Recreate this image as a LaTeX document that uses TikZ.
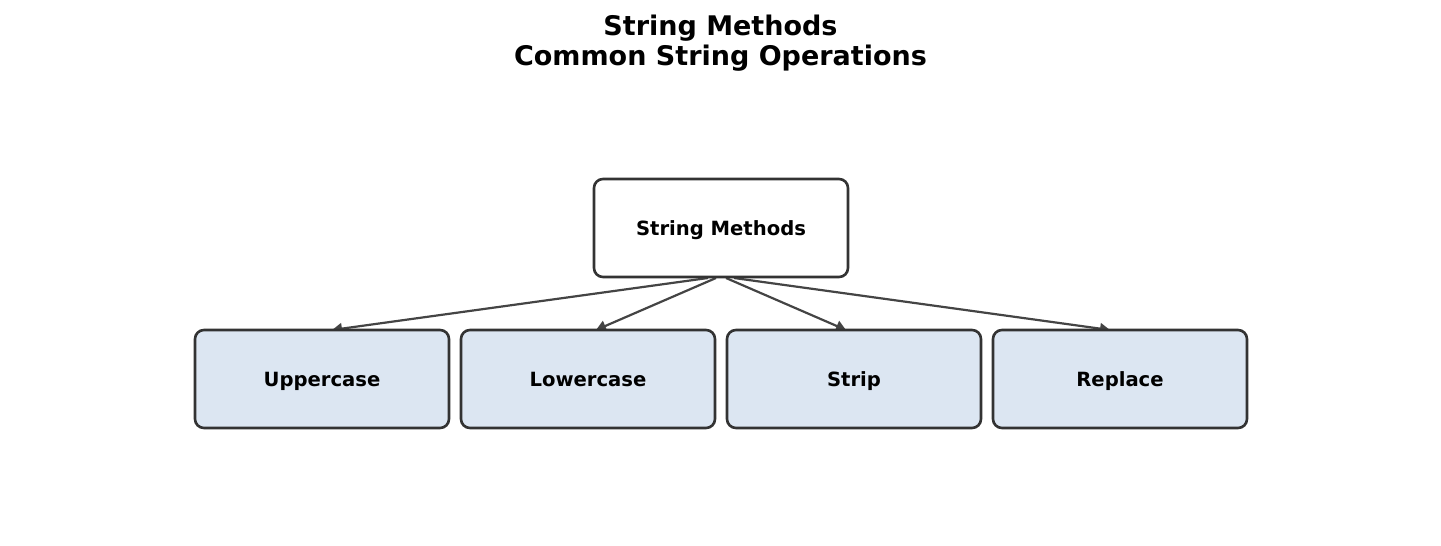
\documentclass[tikz,border=0pt]{standalone}
\usepackage{fontspec}
\setmainfont{DejaVu Sans}
\usetikzlibrary{arrows.meta}
\definecolor{edgec}{HTML}{333333}
\definecolor{arrc}{HTML}{444444}
\definecolor{leaffill}{HTML}{DCE6F2}
\tikzset{
  box/.style={draw=edgec, line width=2.6pt, rounded corners=9pt, minimum width=254pt, minimum height=98pt, inner sep=0pt, text height=16pt, text depth=2pt, font=\fontsize{19.6}{23}\selectfont\bfseries, text=black},
  leaf/.style={box, fill=leaffill},
  root/.style={box, fill=white},
  conn/.style={draw=arrc, line width=2.2pt, -{Triangle[length=10pt,width=11pt]}}
}
\begin{document}
\begin{tikzpicture}[x=1pt,y=-1pt]
\useasboundingbox (0,0) rectangle (1441,546);
\node[font=\fontsize{27}{30}\selectfont\bfseries, align=center] (title) at (720.5,43) {String Methods\\Common String Operations};
\coordinate (s1) at (708,278);
\coordinate (s2) at (716,278);
\coordinate (s3) at (726,278);
\coordinate (s4) at (734,278);
\coordinate (e1) at (332,330);
\coordinate (e2) at (596,330);
\coordinate (e3) at (846,330);
\coordinate (e4) at (1110,330);
\draw[conn] (s1) -- (e1);
\draw[conn] (s2) -- (e2);
\draw[conn] (s3) -- (e3);
\draw[conn] (s4) -- (e4);
\node[root] (root) at (721,228) {String Methods};
\node[leaf] (up) at (322,379) {Uppercase};
\node[leaf] (low) at (588,379) {Lowercase};
\node[leaf] (strip) at (854,379) {Strip};
\node[leaf] (rep) at (1120,379) {Replace};
\end{tikzpicture}
\end{document}
